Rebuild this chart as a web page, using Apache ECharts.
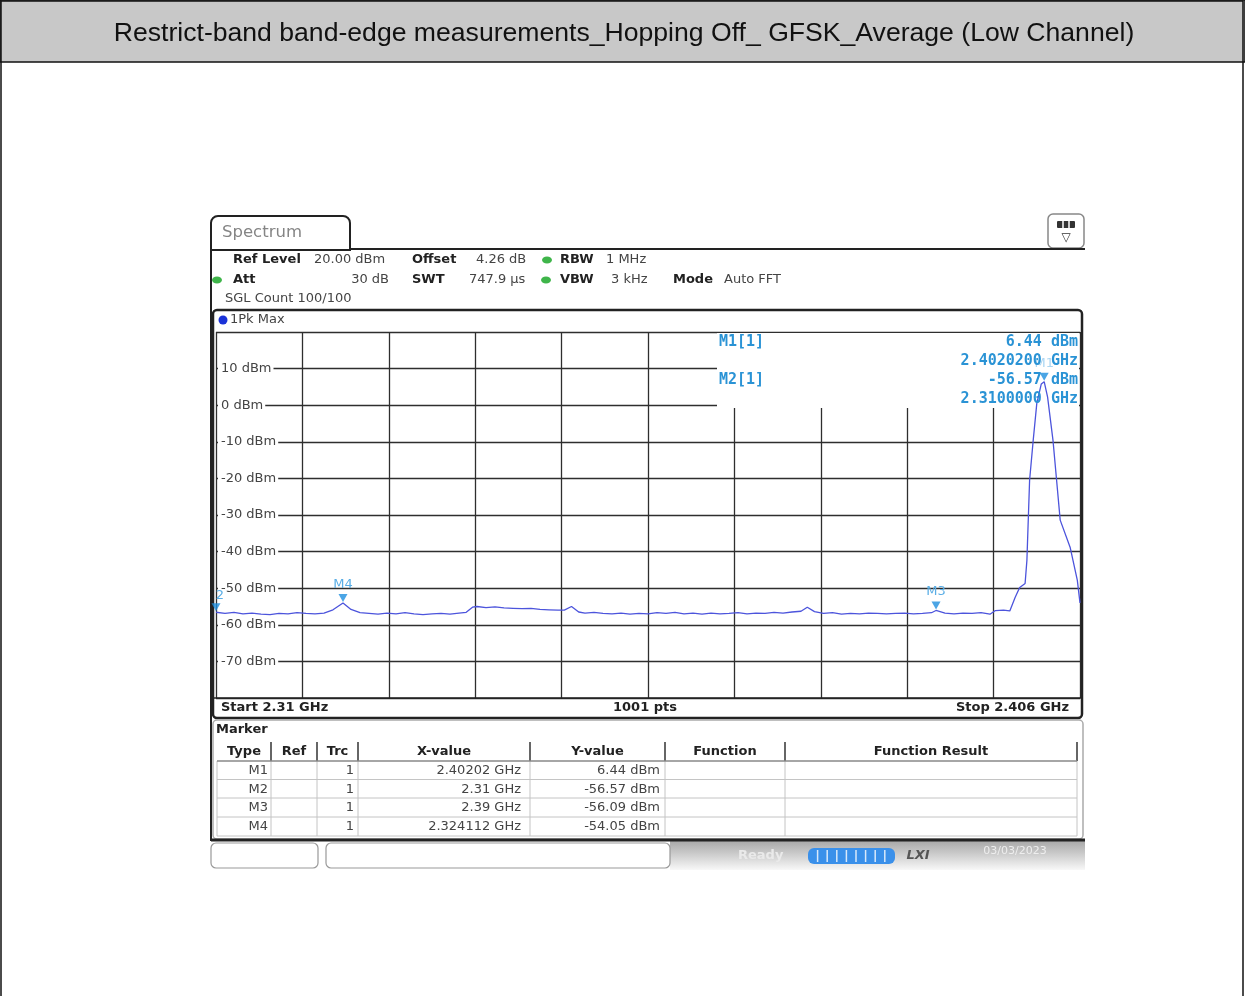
<!DOCTYPE html>
<html><head><meta charset="utf-8">
<script src="https://cdn.jsdelivr.net/npm/echarts@6/dist/echarts.min.js"></script>
<style>html,body{margin:0;padding:0;background:#fff}#c{width:1245px;height:996px}</style>
</head><body><div id="c"></div>
<script>
const titleText = 'Restrict-band band-edge measurements_Hopping Off_ GFSK_Average (Low Channel)';
// trace: frequency (GHz) and level (dBm)
const freqGHz = [2.3100,2.3110,2.3120,2.3130,2.3140,2.3150,2.3160,2.3170,2.3180,2.3190,2.3200,2.3210,2.3220,2.3230,2.324112,2.3250,2.3260,2.3270,2.3280,2.3290,2.3300,2.3310,2.3320,2.3330,2.3340,2.3350,2.3360,2.3370,2.3378,2.3385,2.3390,2.3400,2.3410,2.3420,2.3430,2.3440,2.3450,2.3460,2.3470,2.3480,2.3487,2.3495,2.3503,2.3510,2.3520,2.3530,2.3540,2.3550,2.3560,2.3570,2.3580,2.3590,2.3600,2.3610,2.3620,2.3630,2.3640,2.3650,2.3660,2.3670,2.3680,2.3690,2.3700,2.3710,2.3720,2.3730,2.3740,2.3750,2.3757,2.3765,2.3775,2.3785,2.3795,2.3805,2.3815,2.3825,2.3835,2.3845,2.3855,2.3865,2.3875,2.3885,2.3895,2.3900,2.3910,2.3920,2.3930,2.3940,2.3950,2.3960,2.3966,2.3975,2.3982,2.3988,2.3993,2.3999,2.4001,2.4004,2.4008,2.4012,2.4017,2.40202,2.4024,2.4030,2.4034,2.4038,2.4049,2.4057,2.4060];
const levelDbm = [-56.57,-56.9,-56.6,-57.0,-56.8,-57.1,-57.2,-56.9,-57.0,-56.7,-56.9,-57.0,-56.8,-55.9,-54.05,-55.8,-56.7,-56.9,-57.1,-56.8,-57.0,-56.7,-57.0,-57.2,-57.0,-56.9,-57.1,-56.8,-56.6,-55.2,-55.0,-55.3,-55.1,-55.4,-55.5,-55.6,-55.5,-55.8,-55.9,-56.0,-56.0,-55.0,-56.5,-56.8,-56.6,-56.9,-57.0,-56.8,-57.1,-56.9,-57.0,-56.7,-56.9,-56.6,-57.0,-56.8,-57.1,-56.8,-57.0,-56.9,-56.7,-57.0,-56.8,-56.9,-56.6,-56.8,-56.5,-56.3,-55.2,-56.4,-56.9,-56.7,-57.1,-56.9,-57.0,-56.8,-56.9,-57.0,-56.9,-56.8,-57.0,-56.9,-56.7,-56.09,-56.8,-57.0,-56.8,-56.9,-56.7,-57.1,-56.1,-56.0,-56.2,-52.5,-49.8,-48.7,-42.4,-20.5,-9.6,0.5,5.8,6.44,2.2,-9.6,-20.5,-31.4,-38.8,-47.8,-54.0];
const markerNames = ['M1','M2','M3','M4'];
const markerLabels = ['M1','2','M3','M4'];
const markerFreq = [2.40202, 2.31, 2.39, 2.324112];
const markerLevel = [6.44, -56.57, -56.09, -54.05];
const markerX = ['2.40202 GHz','2.31 GHz','2.39 GHz','2.324112 GHz'];
const markerY = ['6.44 dBm','-56.57 dBm','-56.09 dBm','-54.05 dBm'];
const tableHeader = ['Type','Ref','Trc','X-value','Y-value','Function','Function Result'];
const yMin = -80, yMax = 20, yStep = 10;
const startLabel = 'Start 2.31 GHz', stopLabel = 'Stop 2.406 GHz', ptsLabel = '1001 pts';
const readout = [['M1[1]','6.44 dBm','2.4020200 GHz'],['M2[1]','-56.57 dBm','2.3100000 GHz']];

const F = 'DejaVu Sans';
function T(x, y, text, o) {
  o = o || {};
  return {type:'text', x:x, y:y, z:o.z||5, silent:true, style:{text:text, fill:o.fill||'#333',
    font:o.font||('13px "'+F+'"'), textAlign:o.align||'left', align:o.align||'left',
    textVerticalAlign:'middle', verticalAlign:'middle', opacity:o.opacity==null?1:o.opacity}};
}
function L(x1,y1,x2,y2,c,w,z){return {type:'line', z:z||4, silent:true, shape:{x1:x1,y1:y1,x2:x2,y2:y2}, style:{stroke:c, lineWidth:w}};}
function R(x,y,w,h,o){return {type:'rect', z:o.z||3, silent:true, shape:{x:x,y:y,width:w,height:h,r:o.r||0}, style:{fill:o.fill||'none', stroke:o.stroke||null, lineWidth:o.lw||1}};}

const g = [];
// page frame and title band
g.push(R(0,0,1245,62,{fill:'#c8c8c8', stroke:'#111', lw:1.5, z:1}));
g.push(R(1,1,1242,1010,{stroke:'#111', lw:1.5, z:1}));
g.push(T(624,34,titleText,{font:'26.6px "Liberation Sans"', align:'center', fill:'#111'}));
// spectrum tab and frame
g.push(R(211,216,139,34,{r:[7,7,0,0], fill:'#fff', stroke:'#222', lw:2, z:2}));
g.push(L(350,249,1085,249,'#222',2));
g.push(L(211,249,211,841,'#222',2));
g.push(L(211,840,1085,840,'#222',3));
g.push(T(222,233,'Spectrum',{font:'16.5px "'+F+'"', fill:'#858585'}));
// icon top right
g.push(R(1048,214,36,34,{r:5, fill:'#fff', stroke:'#888', lw:1.5}));
g.push(R(1057,221,18,7,{r:1, fill:'#333'}));
g.push(L(1063,221,1063,228,'#fff',1.5,5));g.push(L(1069,221,1069,228,'#fff',1.5,5));
g.push(T(1066,238,'▽',{font:'12px "'+F+'"', align:'center', fill:'#333'}));
// info rows
const B = 'bold 13px "'+F+'"';
g.push(T(233,260,'Ref Level',{font:B, fill:'#222'}));
g.push(T(314,260,'20.00 dBm',{fill:'#444'}));
g.push(T(412,260,'Offset',{font:B, fill:'#222'}));
g.push(T(476,260,'4.26 dB',{fill:'#444'}));
g.push(T(560,260,'RBW',{font:B, fill:'#222'}));
g.push(T(606,260,'1 MHz',{fill:'#444'}));
g.push(T(233,280,'Att',{font:B, fill:'#222'}));
g.push(T(389,280,'30 dB',{fill:'#444', align:'right'}));
g.push(T(412,280,'SWT',{font:B, fill:'#222'}));
g.push(T(469,280,'747.9 µs',{fill:'#444'}));
g.push(T(560,280,'VBW',{font:B, fill:'#222'}));
g.push(T(611,280,'3 kHz',{fill:'#444'}));
g.push(T(673,280,'Mode',{font:B, fill:'#222'}));
g.push(T(724,280,'Auto FFT',{fill:'#444'}));
g.push(T(225,299,'SGL Count 100/100',{fill:'#444'}));
[[547,260],[217,280],[546,280]].forEach(p=>g.push({type:'ellipse', z:4, silent:true, shape:{cx:p[0],cy:p[1],rx:5,ry:3.5}, style:{fill:'#3fb54a'}}));
// plot frame
g.push(R(213,310,869,408,{r:4, stroke:'#222', lw:2.5, z:3}));
g.push({type:'circle', z:5, silent:true, shape:{cx:223,cy:320,r:4.5}, style:{fill:'#1a32d8'}});
g.push(T(230,320,'1Pk Max',{fill:'#444'}));
g.push(L(214,698,1081,698,'#222',1.5));
g.push(T(221,708,startLabel,{font:B, fill:'#222'}));
g.push(T(645,708,ptsLabel,{font:B, fill:'#222', align:'center'}));
g.push(T(1069,708,stopLabel,{font:B, fill:'#222', align:'right'}));
// marker readout box (covers grid)
g.push({type:'rect', z:1, silent:true, shape:{x:717,y:333,width:362,height:75}, style:{fill:'#fff'}});
const MF = 'bold 15px "DejaVu Sans Mono"', MC = '#2a93d5';
readout.forEach((r,i)=>{
  const y0 = 342 + i*38;
  g.push(T(719,y0,r[0],{font:MF, fill:MC, z:6}));
  g.push(T(1078,y0,r[1],{font:MF, fill:MC, align:'right', z:6}));
  g.push(T(1078,y0+19,r[2],{font:MF, fill:MC, align:'right', z:6}));
});
// marker table
g.push(R(213,720,870,119,{r:4, stroke:'#aaa', lw:1.5, fill:'#fff'}));
g.push(T(216,730,'Marker',{font:B, fill:'#222'}));
const cols = [217,271,317,358,530,665,785,1077];
tableHeader.forEach((h,i)=>g.push(T((cols[i]+cols[i+1])/2,752,h,{font:B, fill:'#222', align:'center'})));
cols.forEach((x,i)=>{ if(i>0) g.push(L(x,742,x,761,'#333',1.5)); g.push(L(x,761,x,836,'#c4c4c4',1)); });
g.push(L(217,761,1077,761,'#888',1.5));
[779.5,798,817,836].forEach(y=>g.push(L(217,y,1077,y,'#c4c4c4',1)));
markerNames.forEach((m,i)=>{
  const y = 770.5 + i*18.8;
  g.push(T(268,y,m,{fill:'#444', align:'right'}));
  g.push(T(354,y,'1',{fill:'#444', align:'right'}));
  g.push(T(521,y,markerX[i],{fill:'#444', align:'right'}));
  g.push(T(660,y,markerY[i],{fill:'#444', align:'right'}));
});
// status bar
g.push(R(211,843,107,25,{r:5, stroke:'#999', lw:1.2, fill:'#fff'}));
g.push(R(326,843,344,25,{r:5, stroke:'#999', lw:1.2, fill:'#fff'}));
g.push({type:'rect', z:2, silent:true, shape:{x:670,y:841,width:415,height:29}, style:{fill:{type:'linear',x:0,y:0,x2:0,y2:1,colorStops:[{offset:0,color:'#a8a8a8'},{offset:1,color:'#f8f8f8'}]}}});
g.push(T(738,856,'Ready',{font:B, fill:'#eaeaea'}));
g.push(R(808,848,87,16,{r:6, fill:'#3a90ea', z:4}));
for (let k=1;k<9;k++) g.push(L(808+k*9.6,850,808+k*9.6,862,'#d8e8fa',1.5,5));
g.push(T(918,856,'LXI',{font:'italic bold 13px "'+F+'"', fill:'#555', align:'center'}));
g.push(T(1015,851,'03/03/2023',{font:'11px "'+F+'"', fill:'#eeeeee', align:'center'}));

const chart = echarts.init(document.getElementById('c'), null, {renderer:'canvas'});
chart.setOption({
  animation:false,
  backgroundColor:'#fff',
  grid:{left:216, top:332, width:864, height:366, containLabel:false},
  xAxis:[
    {type:'value', min:2.31, max:2.406, show:false},
    {type:'value', min:0, max:10, interval:1, axisLabel:{show:false}, axisTick:{show:false}, axisLine:{show:false},
     splitLine:{show:true, lineStyle:{color:'#2e2e2e', width:1.3}}}
  ],
  yAxis:{type:'value', min:yMin, max:yMax, interval:yStep, axisLine:{show:false}, axisTick:{show:false},
    splitLine:{show:true, lineStyle:{color:'#2e2e2e', width:1.3}},
    axisLabel:{inside:true, margin:2, showMinLabel:false, showMaxLabel:false, color:'#444',
      fontFamily:F, fontSize:13, backgroundColor:'#fff', padding:[0,2,0,3],
      formatter:v=>v+' dBm'}},
  graphic:{elements:g},
  series:[
    {type:'line', xAxisIndex:0, data:freqGHz.map((f,i)=>[f,levelDbm[i]]), showSymbol:false, symbol:'none',
     lineStyle:{color:'#4c54dc', width:1.3}, z:3},
    {type:'scatter', xAxisIndex:0, z:4, symbol:'triangle', symbolRotate:180, symbolSize:[9,8], symbolOffset:[0,-5],
     itemStyle:{color:'#1e8ede'},
     data:markerFreq.map((f,i)=>({name:markerNames[i], value:[f,markerLevel[i]],
       label:{show:true, formatter:markerLabels[i], position:'top', distance:3, color:'#5aaee6',
         fontFamily:F, fontSize:13, opacity:i===0?0.5:1, offset:i===1?[4,2]:[0,0]}}))}
  ]
});
</script></body></html>
